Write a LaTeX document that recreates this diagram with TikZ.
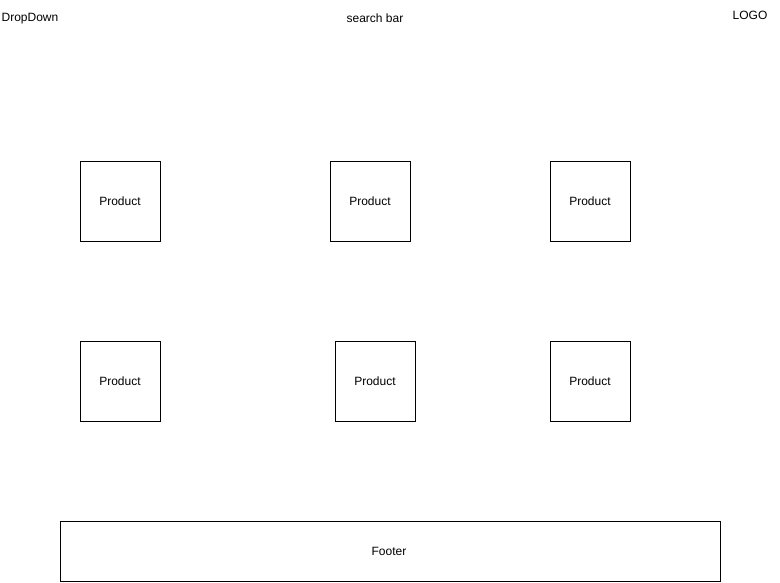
\documentclass[tikz,border=0pt]{standalone}
\usepackage{fontspec}
\setmainfont{Liberation Sans}
\begin{document}
\begin{tikzpicture}[x=1pt,y=-1pt,
  every node/.style={font=\fontsize{12}{14}\selectfont, inner sep=0pt},
  box/.style={draw=black, line width=1pt, minimum width=80pt, minimum height=80pt},
  lbl/.style={}]
\useasboundingbox (0,0) rectangle (780,582);
\node[lbl] (dropdown) at (30,18.5) {DropDown};
\node[lbl] (search) at (375,18) {search bar};
\node[lbl] (logo) at (750,15) {LOGO};
\node[box] (p1) at (120,201) {Product};
\node[box] (p2) at (370,201) {Product};
\node[box] (p3) at (590,201) {Product};
\node[box] (p4) at (120,381) {Product};
\node[box] (p5) at (375,381) {Product};
\node[box] (p6) at (590,381) {Product};
\node[draw=black, line width=1pt, minimum width=660pt, minimum height=60pt] (footer) at (390,551) {\hspace*{-2pt}Footer};
\end{tikzpicture}
\end{document}
